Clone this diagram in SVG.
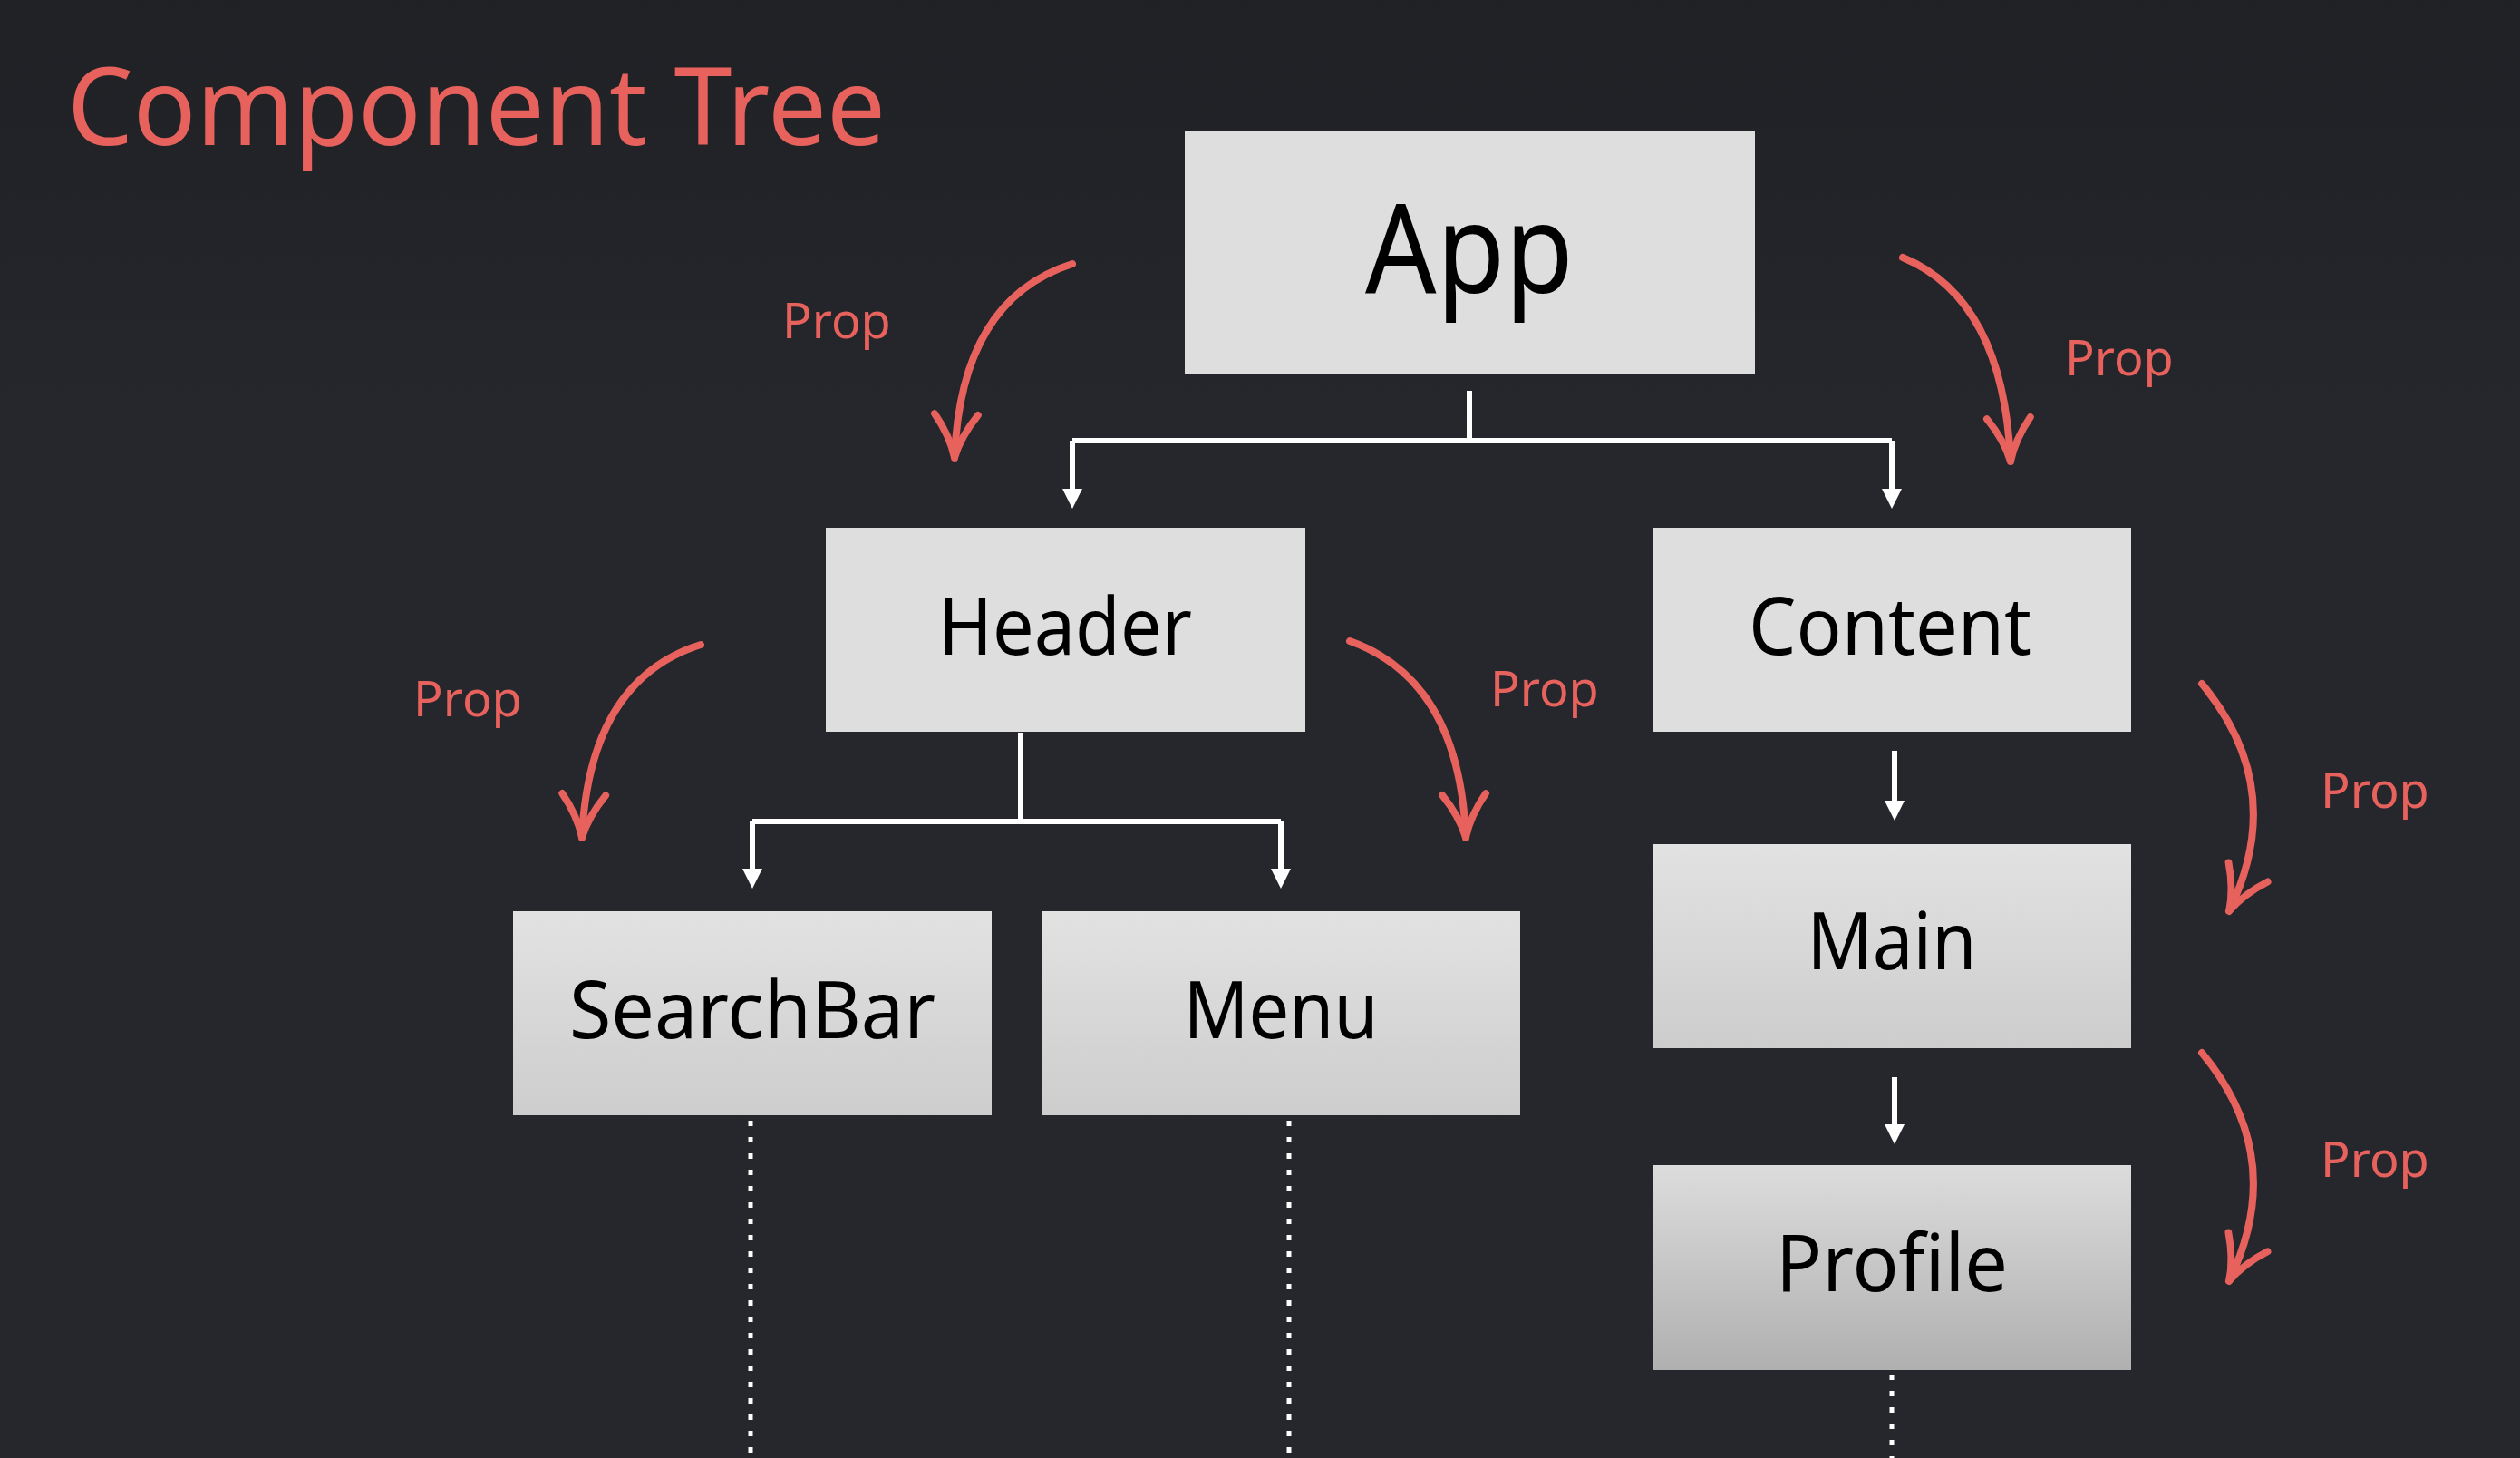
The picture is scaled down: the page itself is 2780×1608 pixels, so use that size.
<svg xmlns="http://www.w3.org/2000/svg" width="2780" height="1608" viewBox="0 0 2780 1608">
<style>
.node text{font-family:"Noto Sans","Open Sans",sans-serif;fill:#000;text-anchor:middle}
.lbl{font-family:"Noto Sans","Open Sans",sans-serif;fill:#e8625d;font-size:54px}
.w{stroke:#fff;stroke-width:6;fill:none}
.d{stroke:#fff;stroke-width:5;fill:none;stroke-dasharray:6 12}
.r{stroke:#e8625d;stroke-width:8;fill:none;stroke-linecap:round}
</style>
<defs>
<linearGradient id="bg" x1="0" y1="0" x2="0" y2="1"><stop offset="0" stop-color="#1f2125"/><stop offset="0.3" stop-color="#25272c"/><stop offset="1" stop-color="#25272c"/></linearGradient>
<linearGradient id="g1" x1="0" y1="0" x2="0" y2="1"><stop offset="0" stop-color="#e2e2e2"/><stop offset="1" stop-color="#cdcdcd"/></linearGradient>
<linearGradient id="g2" x1="0" y1="0" x2="0" y2="1"><stop offset="0" stop-color="#dcdcdc"/><stop offset="1" stop-color="#b0b0b0"/></linearGradient>
<marker id="wa" viewBox="0 0 10 10" refX="5" refY="5" markerWidth="22" markerHeight="22" markerUnits="userSpaceOnUse" orient="auto"><path d="M0,0 L10,5 L0,10 Z" fill="#fff"/></marker>
<marker id="ra" viewBox="0 0 10 10" refX="9" refY="5" markerWidth="60" markerHeight="60" markerUnits="userSpaceOnUse" orient="auto"><path d="M1,1 Q5,4 9,5 Q5,6 1,9" fill="none" stroke="#e8625d" stroke-width="1.3" stroke-linecap="round"/></marker>
</defs>
<rect width="2780" height="1608" fill="url(#bg)"/>
<text x="74" y="160" style="font-family:'Noto Sans','Open Sans',sans-serif;font-size:118px;fill:#e8625d" textLength="903" lengthAdjust="spacingAndGlyphs">Component Tree</text>
<g id="App" class="node"><rect x="1307" y="145" width="629" height="268" fill="#dedede"/><text x="1621" y="323" font-size="138" textLength="230" lengthAdjust="spacingAndGlyphs">App</text></g>
<g id="Header" class="node"><rect x="911" y="582" width="529" height="225" fill="#dedede"/><text x="1175" y="722" font-size="88" textLength="280" lengthAdjust="spacingAndGlyphs">Header</text></g>
<g id="Content" class="node"><rect x="1823" y="582" width="528" height="225" fill="#dedede"/><text x="2085" y="722" font-size="88" textLength="312" lengthAdjust="spacingAndGlyphs">Content</text></g>
<g id="SearchBar" class="node"><rect x="566" y="1005" width="528" height="225" fill="url(#g1)"/><text x="830" y="1145" font-size="88" textLength="404" lengthAdjust="spacingAndGlyphs">SearchBar</text></g>
<g id="Menu" class="node"><rect x="1149" y="1005" width="528" height="225" fill="url(#g1)"/><text x="1413" y="1145" font-size="88" textLength="215" lengthAdjust="spacingAndGlyphs">Menu</text></g>
<g id="Main" class="node"><rect x="1823" y="931" width="528" height="225" fill="url(#g1)"/><text x="2087" y="1069" font-size="88" textLength="187" lengthAdjust="spacingAndGlyphs">Main</text></g>
<g id="Profile" class="node"><rect x="1823" y="1285" width="528" height="226" fill="url(#g2)"/><text x="2087" y="1424" font-size="88" textLength="256" lengthAdjust="spacingAndGlyphs">Profile</text></g>
<g id="connectors">
<path class="w" d="M1621,431 V486 M1183,486 H2087"/>
<path class="w" d="M1183,486 V550" marker-end="url(#wa)"/>
<path class="w" d="M2087,486 V550" marker-end="url(#wa)"/>
<path class="w" d="M1126,808 V906 M830,906 H1413"/>
<path class="w" d="M830,906 V969" marker-end="url(#wa)"/>
<path class="w" d="M1413,906 V969" marker-end="url(#wa)"/>
<path class="w" d="M2090,828 V894" marker-end="url(#wa)"/>
<path class="w" d="M2090,1188 V1251" marker-end="url(#wa)"/>
<path class="d" d="M828,1236 V1608 M1422,1236 V1608 M2087,1516 V1608"/>
<path class="r" d="M1183,291 Q1060,330 1053,505" marker-end="url(#ra)"/>
<path class="r" d="M2099,284 Q2210,330 2218,509" marker-end="url(#ra)"/>
<path class="r" d="M773,711 Q650,750 642,924" marker-end="url(#ra)"/>
<path class="r" d="M1489,707 Q1610,750 1617,924" marker-end="url(#ra)"/>
<path class="r" d="M2429,754 Q2525,870 2459,1005" marker-end="url(#ra)"/>
<path class="r" d="M2429,1161 Q2525,1277 2459,1413" marker-end="url(#ra)"/>
<text class="lbl" x="863" y="373">Prop</text>
<text class="lbl" x="2278" y="414">Prop</text>
<text class="lbl" x="456" y="790">Prop</text>
<text class="lbl" x="1644" y="779">Prop</text>
<text class="lbl" x="2560" y="891">Prop</text>
<text class="lbl" x="2560" y="1298">Prop</text>
</g>
</svg>
